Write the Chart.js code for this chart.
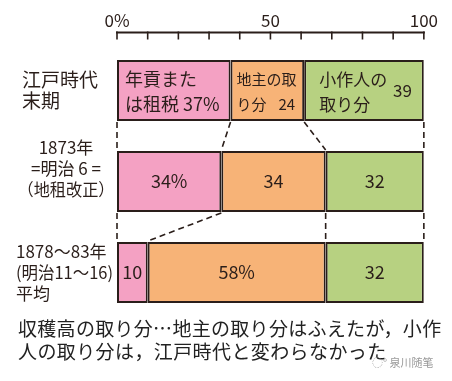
<!DOCTYPE html>
<html><head><meta charset="utf-8">
<script src="https://cdn.jsdelivr.net/npm/chart.js@4"></script>
<style>
html,body{margin:0;padding:0;background:#fff;}
#wrap{position:relative;width:452px;height:381px;overflow:hidden;}
#c{position:absolute;left:0;top:0;}
.cap{position:absolute;left:18px;font-family:"Noto Sans CJK JP",sans-serif;font-size:19px;color:#222;white-space:nowrap;line-height:23px;}
.wm{position:absolute;left:372px;top:354px;font-family:"Noto Sans CJK SC",sans-serif;font-size:11px;color:#9a9a9a;white-space:nowrap;}
</style></head>
<body>
<div id="wrap">
<canvas id="c" width="452" height="381"></canvas>
<div class="cap" style="top:316px;letter-spacing:0.3px">収穫高の取り分…地主の取り分はふえたが，小作</div>
<div class="cap" style="top:339px;letter-spacing:0.4px">人の取り分は，江戸時代と変わらなかった</div>
<div class="wm">◌° 泉川随笔</div>
</div>
<script>
// ---- data ----
const categories = [['江戸時代','末期'], ['1873年','=明治 6 =','（地租改正）'], ['1878～83年','(明治11～16)','平均']];
const categoryAlign = ['left','center','left'];
const taxShare = [37, 34, 10];        // 年貢または租税
const landlordShare = [24, 34, 58];   // 地主の取り分
const tenantShare = [39, 32, 32];     // 小作人の取り分
const seriesNames = ['年貢または租税', '地主の取り分', '小作人の取り分'];
const firstRowText = [['年貢また','は租税'], ['地主の取','り分'], ['小作人の','取り分']];
const percentMark = [[true,true,false],[false,false,true],[false,false,false]];
const axisTickLabels = {0:'0%', 50:'50', 100:'100'};

const FONT = '"Noto Sans CJK JP", sans-serif';
const INK = '#2a1e1a';
const colors = ['#f4a1c3', '#f7b377', '#b7d181'];

const decor = {
  id: 'decor',
  afterDatasetsDraw(chart) {
    const ctx = chart.ctx;
    const xs = chart.scales.x, ys = chart.scales.y;
    ctx.save();
    // axis line + tick marks (pointing down)
    const axY = 32.5;
    ctx.strokeStyle = INK; ctx.lineWidth = 2;
    ctx.beginPath();
    ctx.moveTo(xs.getPixelForValue(0) - 1, axY); ctx.lineTo(xs.getPixelForValue(100) + 1, axY);
    ctx.stroke();
    ctx.lineWidth = 1.6;
    xs.ticks.forEach(t => {
      const px = xs.getPixelForValue(t.value);
      ctx.beginPath(); ctx.moveTo(px, axY - 1); ctx.lineTo(px, axY + 7); ctx.stroke();
    });
    // dashed connectors between bars
    const metas = [0,1,2].map(i => chart.getDatasetMeta(i));
    const bounds = r => {
      const b = [metas[0].data[r].getProps(['base']).base];
      metas.forEach(m => b.push(m.data[r].getProps(['x']).x));
      return b;
    };
    ctx.setLineDash([6, 4]); ctx.lineWidth = 1.6;
    for (let r = 0; r < categories.length - 1; r++) {
      const e1 = metas[0].data[r].getProps(['y','height']);
      const e2 = metas[0].data[r+1].getProps(['y','height']);
      const y1 = e1.y + e1.height/2 + 1, y2 = e2.y - e2.height/2 - 1;
      const b1 = bounds(r), b2 = bounds(r+1);
      for (let k = 0; k < b1.length; k++) {
        ctx.beginPath(); ctx.moveTo(b1[k], y1); ctx.lineTo(b2[k], y2); ctx.stroke();
      }
    }
    ctx.setLineDash([]);
    // segment labels
    ctx.fillStyle = INK;
    ctx.textBaseline = 'middle';
    const data = [taxShare, landlordShare, tenantShare];
    metas.forEach((m, d) => {
      m.data.forEach((el, r) => {
        const p = el.getProps(['x','y','base','height']);
        const v = data[d][r] + (percentMark[d][r] ? '%' : '');
        if (r === 0) {
          const t = firstRowText[d];
          if (d === 0) {
            ctx.font = '18px ' + FONT; ctx.textAlign = 'left';
            ctx.fillText(t[0], p.base + 8, p.y - 11);
            ctx.fillText(t[1] + ' ' + v, p.base + 8, p.y + 14);
          } else if (d === 1) {
            ctx.font = '15px ' + FONT; ctx.textAlign = 'left';
            ctx.fillText(t[0], p.base + 6, p.y - 11);
            ctx.fillText(t[1], p.base + 6, p.y + 14);
            ctx.textAlign = 'right';
            ctx.fillText(v, p.x - 9, p.y + 14);
          } else {
            ctx.font = '17px ' + FONT; ctx.textAlign = 'left';
            ctx.fillText(t[0], p.base + 15, p.y - 11);
            ctx.fillText(t[1], p.base + 15, p.y + 14);
            ctx.textAlign = 'right';
            ctx.fillText(v, p.x - 12, p.y);
          }
        } else {
          ctx.font = '18px ' + FONT; ctx.textAlign = 'center';
          ctx.fillText(v, (p.x + p.base)/2, p.y);
        }
      });
    });
    // category labels
    const catOffset = [0, -13, 0];
    const catX = [22, 66, 16];
    categories.forEach((lines, i) => {
      const cy = ys.getPixelForValue(i) + catOffset[i];
      const lh = 21;
      const y0 = cy - (lines.length - 1) * lh / 2;
      lines.forEach((s, j) => {
        ctx.font = (i === 0 ? '19px ' : '17px ') + FONT;
        ctx.textAlign = categoryAlign[i];
        ctx.fillText(s, catX[i], y0 + j*lh, 97);
      });
    });
    ctx.restore();
  }
};

new Chart(document.getElementById('c'), {
  type: 'bar',
  data: {
    labels: categories.map(c => c.join('')),
    datasets: [taxShare, landlordShare, tenantShare].map((d, i) => ({
      label: seriesNames[i],
      data: d,
      backgroundColor: colors[i],
      borderColor: INK,
      borderWidth: 2,
      borderSkipped: false,
      categoryPercentage: 1,
      barPercentage: 0.67
    }))
  },
  options: {
    indexAxis: 'y',
    responsive: false,
    animation: false,
    layout: { padding: { left: 117, right: 24, top: 0, bottom: 63 } },
    plugins: { legend: { display: false }, tooltip: { enabled: false } },
    scales: {
      x: {
        position: 'top', stacked: true, min: 0, max: 100,
        grid: { display: false, drawTicks: false },
        border: { display: false },
        ticks: { stepSize: 10, padding: 14, autoSkip: false, maxRotation: 0,
          color: INK, font: { size: 17, family: FONT },
          callback: v => axisTickLabels[v] !== undefined ? axisTickLabels[v] : '' },
        afterFit: s => { s.height = 45; }
      },
      y: { stacked: true, display: false }
    }
  },
  plugins: [decor]
});
</script>
</body></html>
